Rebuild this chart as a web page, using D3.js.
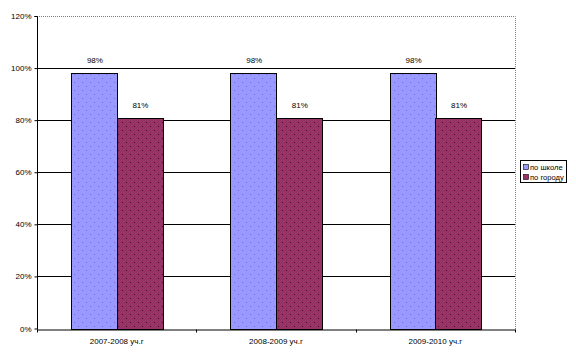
<!DOCTYPE html>
<html><head><meta charset="utf-8">
<script src="https://cdn.jsdelivr.net/npm/d3@7"></script>
<style>body{margin:0;background:#fff}svg{display:block}text{font-family:"Liberation Sans",Arial,sans-serif;font-size:8px;fill:#000}</style>
</head><body>
<script>
const categories = ["2007-2008 уч.г", "2008-2009 уч.г", "2009-2010 уч.г"];
const seriesNames = ["по школе", "по городу"];
const school = [98, 98, 98];
const city = [81, 81, 81];
const yTicks = [0, 20, 40, 60, 80, 100, 120];

(function(){
const W = 576, H = 358;
const m = {left: 37, right: 61, top: 16, bottom: 29.5};
const svg = d3.select("body").append("svg").attr("width", W).attr("height", H);

const defs = svg.append("defs");
function pat(id, bg, dot) {
  const p = defs.append("pattern").attr("id", id).attr("patternUnits", "userSpaceOnUse")
    .attr("width", 8).attr("height", 8);
  p.append("rect").attr("width", 8).attr("height", 8).attr("fill", bg);
  p.append("rect").attr("x", 2).attr("y", 2).attr("width", 1).attr("height", 1).attr("fill", dot);
  p.append("rect").attr("x", 6).attr("y", 6).attr("width", 1).attr("height", 1).attr("fill", dot);
}
pat("pBlue", "#9999ff", "#6a6ae6");
pat("pRed", "#993366", "#3a1030");
const fills = ["url(#pBlue)", "url(#pRed)"];
const solid = ["#9999ff", "#993366"];

const x0 = d3.scaleBand().domain(categories).range([m.left, W - m.right]).paddingInner(0).paddingOuter(0);
const y = d3.scaleLinear().domain([0, 120]).range([H - m.bottom, m.top]);
const bw = x0.bandwidth() / 3.5;

// gridlines
svg.append("g").selectAll("line").data(yTicks.filter(t => t > 0 && t < 120)).join("line")
  .attr("x1", m.left).attr("x2", W - m.right)
  .attr("y1", d => Math.round(y(d)) + 0.5).attr("y2", d => Math.round(y(d)) + 0.5)
  .attr("stroke", "#000").attr("stroke-width", 1);

// plot border top/right dotted
const topY = Math.round(y(120)) + 0.5, rightX = Math.round(W - m.right) + 0.5;
svg.append("path").attr("d", `M${m.left},${topY}H${rightX}V${Math.round(y(0))}`)
  .attr("fill", "none").attr("stroke", "#808080").attr("stroke-dasharray", "1,1");

// bars
const data = categories.map((c, i) => ({c, v: [school[i], city[i]]}));
const g = svg.append("g");
data.forEach(d => {
  d.v.forEach((v, s) => {
    const bx = x0(d.c) + 0.75 * bw + s * bw;
    g.append("rect").attr("x", Math.round(bx) + 0.5).attr("y", Math.round(y(v)) + 0.5)
      .attr("width", Math.round(bw)).attr("height", Math.round(y(0)) - Math.round(y(v)))
      .attr("fill", fills[s]).attr("stroke", "#000").attr("stroke-width", 1);
    g.append("text").attr("x", bx + bw / 2 + 1).attr("y", y(v) - 10).attr("text-anchor", "middle")
      .text(v + "%");
  });
});

// y axis
const ya = svg.append("g").attr("transform", `translate(${m.left + 0.5},0)`)
  .call(d3.axisLeft(y).tickValues(yTicks).tickFormat(d => d + "%").tickSize(3).tickPadding(3));
ya.select(".domain").attr("stroke", "#000").attr("d", `M-3,${Math.round(y(120))+0.5}H0V${Math.round(y(0))+0.5}`);
ya.selectAll("text").style("font-family", '"Liberation Sans",Arial,sans-serif').style("font-size", "8px");

// x axis
const xa = svg.append("g").attr("transform", `translate(0,${Math.round(y(0)) + 0.5})`)
  .call(d3.axisBottom(x0).tickSize(0).tickPadding(9));
xa.select(".domain").attr("stroke", "#000");
xa.selectAll("text").style("font-family", '"Liberation Sans",Arial,sans-serif').style("font-size", "8px");
const bounds = [m.left].concat(categories.map(c => x0(c) + x0.bandwidth()));
xa.append("g").selectAll("line").data(bounds).join("line")
  .attr("x1", d => Math.round(d) + 0.5).attr("x2", d => Math.round(d) + 0.5)
  .attr("y1", 0).attr("y2", 3).attr("stroke", "#000");

// legend
const lg = svg.append("g");
lg.append("rect").attr("x", 520.5).attr("y", 160.5).attr("width", 46).attr("height", 22)
  .attr("fill", "#fff").attr("stroke", "#000");
seriesNames.forEach((n, i) => {
  const cy = 166.5 + i * 10.5;
  lg.append("rect").attr("x", 523.5).attr("y", Math.round(cy - 3) + 0.5).attr("width", 5).attr("height", 5)
    .attr("fill", solid[i]).attr("stroke", "#000").attr("stroke-width", 0.6);
  lg.append("text").attr("x", 530).attr("y", cy + 3).style("font-size", "7.6px").text(n);
});
})();
</script>
</body></html>
